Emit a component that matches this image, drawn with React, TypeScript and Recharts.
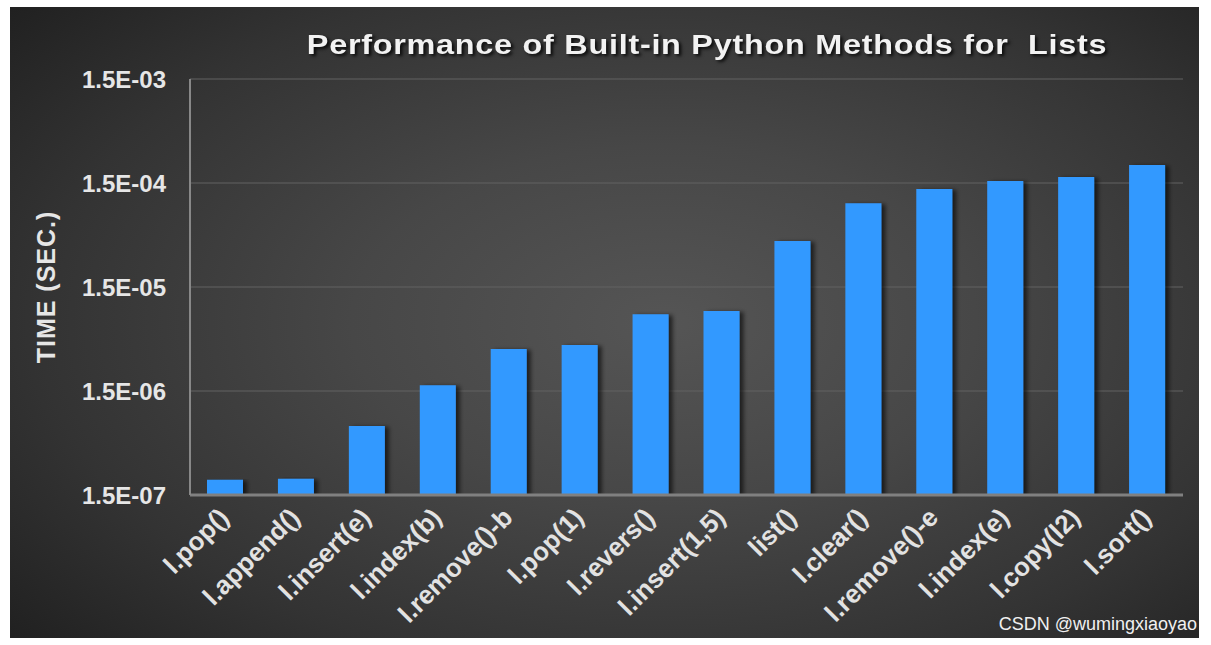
import React from 'react';
import { BarChart, Bar, XAxis, YAxis, CartesianGrid } from 'recharts';

const categories = ['l.pop()', 'l.append()', 'l.insert(e)', 'l.index(b)', 'l.remove()-b', 'l.pop(1)', 'l.revers()', 'l.insert(1,5)', 'list()', 'l.clear()', 'l.remove()-e', 'l.index(e)', 'l.copy(l2)', 'l.sort()'];
const times = [2.1e-7, 2.15e-7, 6.9e-7, 1.7e-6, 3.8e-6, 4.15e-6, 8.2e-6, 8.8e-6, 4.15e-5, 9.6e-5, 1.31e-4, 1.57e-4, 1.71e-4, 2.23e-4];
const yTicks = [1.5e-7, 1.5e-6, 1.5e-5, 1.5e-4, 1.5e-3];

const data = categories.map((c, i) => ({ name: c, time: times[i] }));

const FONT = '"Liberation Sans", Arial, sans-serif';

const fmt = (v: number) => {
  const e = Math.round(Math.log10(v / 1.5));
  const sign = e < 0 ? '-' : '+';
  return `1.5E${sign}${String(Math.abs(e)).padStart(2, '0')}`;
};

const XTick = (props: any) => {
  const { x, y, payload } = props;
  return (
    <g transform={`translate(${x + 5},${y + 24})`}>
      <text
        textAnchor="end"
        transform="rotate(-45)"
        fill="#e2e2e2"
        fontSize={26}
        fontWeight="bold"
        fontFamily={FONT}
      >
        {payload.value}
      </text>
    </g>
  );
};

export default function App() {
  return (
    <div style={{ position: 'absolute', left: 0, top: 0, width: 1211, height: 645, background: '#ffffff', overflow: 'hidden' }}>
      <div
        style={{
          position: 'absolute',
          left: 10,
          top: 7,
          width: 1189,
          height: 631,
          background: 'radial-gradient(ellipse 75% 80% at 55% 50%, #555555 0%, #474747 35%, #333333 70%, #1e1e1e 100%)',
        }}
      />
      <div style={{ position: 'absolute', left: 0, top: 0 }}>
        <BarChart width={1211} height={645} data={data} margin={{ top: 79, right: 28, bottom: 10, left: 0 }} barSize={36}>
          <defs>
            <filter id="barShadow" x="-20%" y="-5%" width="150%" height="110%">
              <feDropShadow dx="4" dy="1" stdDeviation="2" floodColor="#000000" floodOpacity="0.6" />
            </filter>
          </defs>
          <CartesianGrid vertical={false} stroke="#626262" strokeWidth={1} />
          <XAxis
            dataKey="name"
            height={140}
            interval={0}
            tick={<XTick />}
            tickLine={false}
            tickSize={0}
            tickMargin={0}
            axisLine={{ stroke: '#808080', strokeWidth: 3 }}
          />
          <YAxis
            scale="log"
            domain={[1.5e-7, 1.5e-3]}
            ticks={yTicks}
            allowDataOverflow
            width={190}
            tickFormatter={fmt}
            tickLine={false}
            tickSize={0}
            tickMargin={24}
            axisLine={{ stroke: '#888888', strokeWidth: 2 }}
            tick={{ fill: '#e6e6e6', fontSize: 24, fontWeight: 'bold', fontFamily: FONT }}
            label={{
              value: 'TIME (SEC.)',
              angle: -90,
              position: 'insideLeft',
              offset: 46,
              style: { textAnchor: 'middle', fill: '#e6e6e6', fontSize: 25, fontWeight: 'bold', fontFamily: FONT, letterSpacing: 1 },
            }}
          />
          <Bar dataKey="time" fill="#3399ff" isAnimationActive={false} style={{ filter: 'url(#barShadow)' }} />
        </BarChart>
      </div>
      <div
        style={{
          position: 'absolute',
          left: 307,
          top: 28,
          width: 800,
          textAlign: 'center',
          whiteSpace: 'pre',
          color: '#f2f2f2',
          fontFamily: FONT,
          fontWeight: 'bold',
          fontSize: 27,
          lineHeight: '34px',
          letterSpacing: 0.6,
          transform: 'scaleX(1.2)',
          transformOrigin: '400px 50%',
          textShadow: '2px 2px 3px rgba(0,0,0,0.8)',
        }}
      >
        {'Performance of Built-in Python Methods for  Lists'}
      </div>
      <div
        style={{
          position: 'absolute',
          right: 14,
          top: 613,
          color: '#f0f0f0',
          fontFamily: FONT,
          fontSize: 18,
          lineHeight: '22px',
          whiteSpace: 'nowrap',
        }}
      >
        CSDN @wumingxiaoyao
      </div>
    </div>
  );
}
